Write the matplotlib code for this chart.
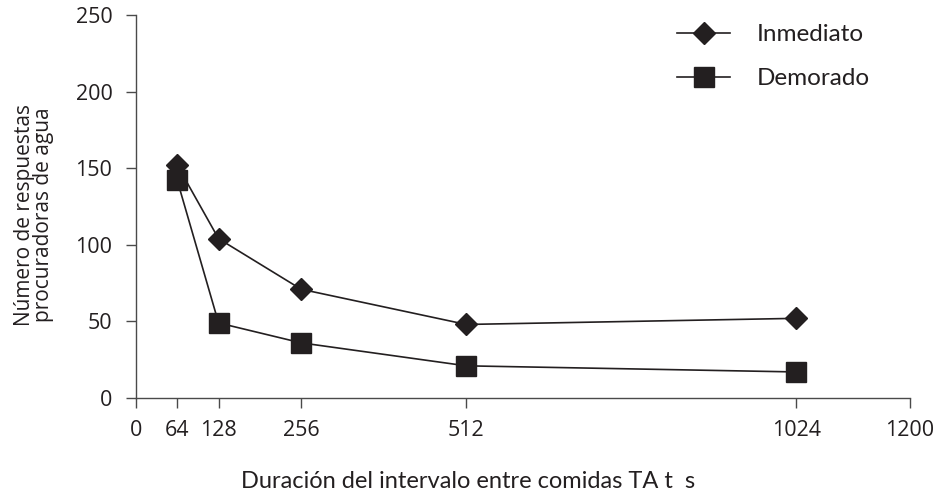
import matplotlib
matplotlib.use("Agg")
import matplotlib.pyplot as plt

x_vals = [64, 128, 256, 512, 1024]
inmediato = [152, 104, 71, 48, 52]
demorado = [142, 49, 36, 21, 17]
x_ticks = [0, 64, 128, 256, 512, 1024, 1200]
y_ticks = [0, 50, 100, 150, 200, 250]

INK = "#231f20"
AX = "#4a4a4a"

fig = plt.figure(figsize=(9.39, 4.95), dpi=100)
ax = fig.add_axes([136/939, 1-398/495, (910-136)/939, (398-15)/495])

ax.plot(x_vals, inmediato, color=INK, lw=1.2, marker="D", ms=11, mfc=INK, mec=INK, label="Inmediato", clip_on=False)
ax.plot(x_vals, demorado, color=INK, lw=1.2, marker="s", ms=14.5, mfc=INK, mec=INK, label="Demorado", clip_on=False)

ax.set_xlim(0, 1200)
ax.set_ylim(0, 250)
ax.set_xticks(x_ticks)
ax.set_yticks(y_ticks)
for s in ["top", "right"]:
    ax.spines[s].set_visible(False)
for s in ["left", "bottom"]:
    ax.spines[s].set_color(AX)
    ax.spines[s].set_linewidth(1.0)
ax.tick_params(axis="both", direction="out", length=7, width=1.0, color=AX,
               labelcolor=INK, labelsize=15.5)
ax.tick_params(axis="y", pad=10)
ax.tick_params(axis="x", pad=9)
for lab in ax.get_xticklabels() + ax.get_yticklabels():
    lab.set_family("Open Sans")

fig.text(34/939, 1-215/495, "Número de respuestas\nprocuradoras de agua", rotation=90,
         ha="center", va="center", fontsize=15, family="Open Sans", color=INK,
         linespacing=0.92)
fig.text(468/939, 1-481/495, "Duración del intervalo entre comidas TA t  s",
         ha="center", va="center", fontsize=17, family="Lato", color=INK)

leg = ax.legend(loc="upper left", bbox_to_anchor=(677/939, 1-24/495), bbox_transform=fig.transFigure,
                frameon=False, numpoints=1, handlelength=2.2, handletextpad=1.1,
                labelspacing=0.95, borderpad=0, borderaxespad=0,
                prop={"family": "Lato", "size": 17.5})
for t in leg.get_texts():
    t.set_color(INK)

fig.savefig("out.png", dpi=100)
